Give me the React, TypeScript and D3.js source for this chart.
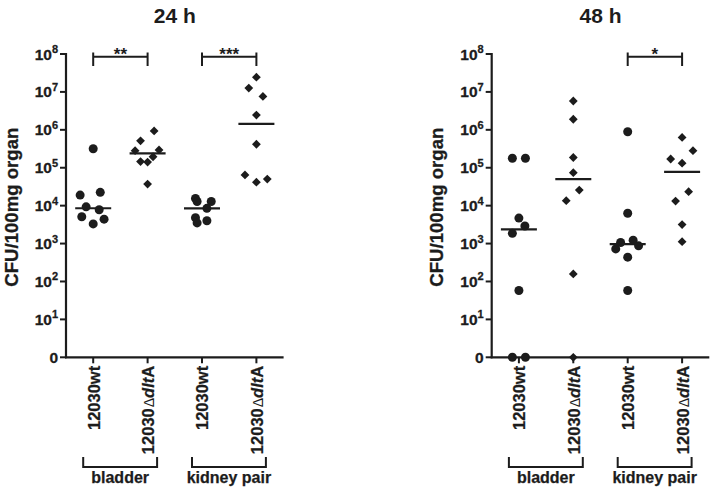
import React from "react";
import * as d3 from "d3";

// ---------- data ----------
const CATEGORIES = ["wt_bladder", "dlt_bladder", "wt_kidney", "dlt_kidney"];
const CATEGORY_KIND = ["wt", "dlt", "wt", "dlt"];
const GROUP_NAMES = ["bladder", "kidney pair"];
const Y_EXPONENTS = [0, 1, 2, 3, 4, 5, 6, 7, 8];
const TITLES = ["24 h", "48 h"];

// 24 h (CFU/100mg organ)
const H24_BLADDER_WT = [316000, 19000, 22400, 9300, 7800, 5100, 4400, 3300];
const H24_BLADDER_WT_JIT = [0, -0.24, 0.13, -0.13, 0.11, -0.21, 0.2, 0];
const H24_BLADDER_DLT = [933000, 513000, 282000, 295000, 195000, 145000, 141000, 37000];
const H24_BLADDER_DLT_JIT = [0.12, -0.13, -0.23, 0.21, 0.1, -0.13, 0, 0];
const H24_KIDNEY_WT = [15500, 12900, 12900, 8500, 4800, 4000, 3500];
const H24_KIDNEY_WT_JIT = [-0.12, -0.09, 0.17, 0.09, -0.12, 0.09, -0.09];
const H24_KIDNEY_DLT = [24500000, 12600000, 7600000, 2450000, 417000, 64600, 50100, 41700];
const H24_KIDNEY_DLT_JIT = [0, -0.14, 0.12, 0, 0, -0.21, 0.2, 0];

// 48 h
const H48_BLADDER_WT = [178000, 178000, 4700, 2900, 1860, 58, 0, 0];
const H48_BLADDER_WT_JIT = [-0.12, 0.12, 0, 0.11, -0.12, 0, -0.12, 0.12];
const H48_BLADDER_DLT = [5750000, 1900000, 186000, 74000, 25700, 13500, 158, 0];
const H48_BLADDER_DLT_JIT = [0, 0, 0, 0, 0.11, -0.13, 0, 0];
const H48_KIDNEY_WT = [891000, 6300, 1230, 1070, 870, 724, 437, 58];
const H48_KIDNEY_WT_JIT = [0, 0, 0.1, -0.13, 0.2, -0.22, 0, 0];
const H48_KIDNEY_DLT = [631000, 282000, 170000, 132000, 23400, 13200, 3160, 1120];
const H48_KIDNEY_DLT_JIT = [0, 0.2, -0.21, 0, 0.12, -0.12, 0, 0];

// significance: [from category, to category, label]
const H24_SIG: [number, number, string][] = [[0, 1, "**"], [2, 3, "***"]];
const H48_SIG: [number, number, string][] = [[2, 3, "*"]];

// ---------- layout ----------
const W = 714;
const H = 491;
const INK = "#1c1c1c";
const FONT = "'Liberation Sans', Arial, Helvetica, sans-serif";
const PLOT_TOP = 54;
const PLOT_BOTTOM = 357.3;
const PLOT_WIDTH = 217.6;

type Series = { values: number[]; jitter: number[] };

function diamond(cx: number, cy: number, r: number) {
  return `M${cx},${cy - r}L${cx + r},${cy}L${cx},${cy + r}L${cx - r},${cy}Z`;
}

function Panel({ left, title, series, sig }: { left: number; title: string; series: Series[]; sig: [number, number, string][] }) {
  const y = d3.scaleLog().domain([1, 1e8]).range([PLOT_BOTTOM, PLOT_TOP]);
  const x = d3.scaleBand<string>().domain(CATEGORIES).range([left, left + PLOT_WIDTH]).padding(0);
  const cx = (i: number) => (x(CATEGORIES[i]) as number) + x.bandwidth() / 2;
  const yv = (v: number) => y(Math.max(v, 1));
  const mid = (left + left + PLOT_WIDTH) / 2;

  return (
    <g>
      <text x={mid} y={22.7} textAnchor="middle" fontFamily={FONT} fontWeight="bold" fontSize={21} fill={INK}>
        {title}
      </text>
      {/* y label */}
      <text
        transform={`translate(${left - 48.5},${(PLOT_TOP + PLOT_BOTTOM) / 2 + 1.5}) rotate(-90)`}
        textAnchor="middle"
        fontFamily={FONT}
        fontWeight="bold"
        fontSize={18.6}
        fill={INK}
        stroke={INK}
        strokeWidth={0.3}
      >
        CFU/100mg organ
      </text>
      {/* axes */}
      <line x1={left} x2={left} y1={PLOT_TOP - 1} y2={PLOT_BOTTOM + 1} stroke={INK} strokeWidth={2.2} />
      <line x1={left - 1} x2={left + PLOT_WIDTH} y1={PLOT_BOTTOM} y2={PLOT_BOTTOM} stroke={INK} strokeWidth={2.2} />
      {Y_EXPONENTS.map((e) => {
        const ty = y(Math.pow(10, e));
        return (
          <g key={e}>
            <line x1={left - 6} x2={left} y1={ty} y2={ty} stroke={INK} strokeWidth={2} />
            <text
              x={left - 8}
              y={ty + 5.5}
              textAnchor="end"
              fontFamily={FONT}
              fontWeight="bold"
              fontSize={15.5}
              fill={INK}
              stroke={INK}
              strokeWidth={0.3}
            >
              {e === 0 ? (
                "0"
              ) : (
                <>
                  <tspan>10</tspan>
                  <tspan dy={-6.5} fontSize={11}>{e}</tspan>
                </>
              )}
            </text>
          </g>
        );
      })}
      {CATEGORIES.map((c, i) => {
        const tx = cx(i);
        return (
          <g key={c}>
            <line x1={tx} x2={tx} y1={PLOT_BOTTOM} y2={PLOT_BOTTOM + 6} stroke={INK} strokeWidth={2} />
            <text
              transform={`translate(${tx + 0.5},${PLOT_BOTTOM + 8.5}) rotate(-90)`}
              textAnchor="end"
              dy="0.36em"
              fontFamily={FONT}
              fontWeight="bold"
              fontSize={16.5}
              fill={INK}
              stroke={INK}
              strokeWidth={0.25}
            >
              {CATEGORY_KIND[i] === "wt" ? (
                "12030wt"
              ) : (
                <>
                  <tspan>12030</tspan>
                  <tspan fontWeight="normal" strokeWidth={0} fontSize={14} dx={1}>Δ</tspan>
                  <tspan fontStyle="italic">dlt</tspan>
                  <tspan>A</tspan>
                </>
              )}
            </text>
          </g>
        );
      })}
      {/* group brackets */}
      {GROUP_NAMES.map((g, gi) => {
        const x1 = cx(gi * 2) - 10;
        const x2 = cx(gi * 2 + 1) + 9.5;
        return (
          <g key={g}>
            <path d={`M${x1},457V467H${x2}V457`} fill="none" stroke={INK} strokeWidth={2} />
            <text
              x={(x1 + x2) / 2}
              y={483}
              textAnchor="middle"
              fontFamily={FONT}
              fontWeight="bold"
              fontSize={16}
              fill={INK}
              stroke={INK}
              strokeWidth={0.25}
            >
              {g}
            </text>
          </g>
        );
      })}
      {/* significance */}
      {sig.map(([a, b, label], k) => {
        const x1 = cx(a);
        const x2 = cx(b);
        return (
          <g key={k}>
            <path d={`M${x1},56.7H${x2}M${x1},52.5V66M${x2},52.5V66`} fill="none" stroke={INK} strokeWidth={2} />
            <text x={(x1 + x2) / 2} y={59.5} textAnchor="middle" fontFamily={FONT} fontWeight="bold" fontSize={17} fill={INK}>
              {label}
            </text>
          </g>
        );
      })}
      {/* points + medians */}
      {series.map((s, i) => {
        const center = cx(i);
        const med = d3.median(s.values) as number;
        return (
          <g key={i}>
            {s.values.map((v, j) => {
              const px = center + s.jitter[j] * x.bandwidth();
              const py = yv(v);
              return CATEGORY_KIND[i] === "wt" ? (
                <circle key={j} cx={px} cy={py} r={4.5} fill={INK} />
              ) : (
                <path key={j} d={diamond(px, py, 4.4)} fill={INK} />
              );
            })}
            <line x1={center - 18} x2={center + 18} y1={yv(med)} y2={yv(med)} stroke={INK} strokeWidth={2.2} />
          </g>
        );
      })}
    </g>
  );
}

export default function App() {
  const s24: Series[] = [
    { values: H24_BLADDER_WT, jitter: H24_BLADDER_WT_JIT },
    { values: H24_BLADDER_DLT, jitter: H24_BLADDER_DLT_JIT },
    { values: H24_KIDNEY_WT, jitter: H24_KIDNEY_WT_JIT },
    { values: H24_KIDNEY_DLT, jitter: H24_KIDNEY_DLT_JIT },
  ];
  const s48: Series[] = [
    { values: H48_BLADDER_WT, jitter: H48_BLADDER_WT_JIT },
    { values: H48_BLADDER_DLT, jitter: H48_BLADDER_DLT_JIT },
    { values: H48_KIDNEY_WT, jitter: H48_KIDNEY_WT_JIT },
    { values: H48_KIDNEY_DLT, jitter: H48_KIDNEY_DLT_JIT },
  ];
  return (
    <svg width={W} height={H} style={{ position: "absolute", left: 0, top: 0, background: "#fff" }}>
      <rect width={W} height={H} fill="#fff" />
      <Panel left={66} title={TITLES[0]} series={s24} sig={H24_SIG} />
      <Panel left={491.7} title={TITLES[1]} series={s48} sig={H48_SIG} />
    </svg>
  );
}
